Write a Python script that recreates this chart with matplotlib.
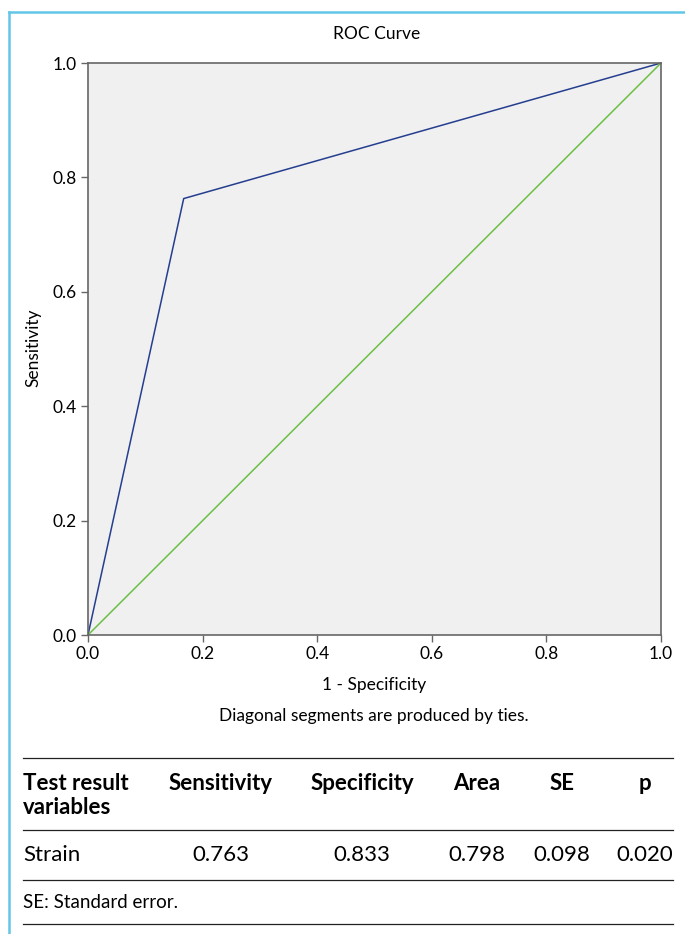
import matplotlib.pyplot as plt
from matplotlib.lines import Line2D

# ROC data
fpr = [0.0, 0.167, 1.0]
tpr = [0.0, 0.763, 1.0]
ref = [0.0, 1.0]
ticks = [0.0, 0.2, 0.4, 0.6, 0.8, 1.0]

# table data
headers = ["Sensitivity", "Specificity", "Area", "SE", "p"]
row_name = "Strain"
row_values = ["0.763", "0.833", "0.798", "0.098", "0.020"]
footnote = "SE: Standard error."

W, H = 685, 934
plt.rcParams['font.family'] = ['Lato', 'DejaVu Sans']

fig = plt.figure(figsize=(W / 100, H / 100), dpi=100)


def fx(px):
    return px / W


def fy(py):
    return 1 - py / H


ax = fig.add_axes([fx(88), fy(635), (661 - 88) / W, (635 - 63) / H])
ax.set_facecolor("#f0f0f0")
ax.plot(fpr, tpr, color="#253e8f", lw=1.1)
ax.plot(ref, ref, color="#6cbf45", lw=1.1)
ax.set_xlim(0, 1)
ax.set_ylim(0, 1)
ax.set_xticks(ticks)
ax.set_yticks(ticks)
ax.set_xticklabels(["%.1f" % t for t in ticks])
ax.set_yticklabels(["%.1f" % t for t in ticks])
for s in ax.spines.values():
    s.set_color("#666666")
    s.set_linewidth(1.2)
ax.tick_params(colors="#666666", labelcolor="black", labelsize=12.5, length=5, width=1,
               pad=3)

fig.text(fx(377), fy(34), "ROC Curve", ha="center", va="center", fontsize=12.5)
fig.text(fx(374), fy(685), "1 - Specificity", ha="center", va="center", fontsize=12.5)
fig.text(fx(374), fy(716), "Diagonal segments are produced by ties.",
         ha="center", va="center", fontsize=12.5)
fig.text(fx(33), fy(348), "Sensitivity", ha="center", va="center",
         rotation=90, fontsize=12.5)

# outer frame (cyan)
fig.add_artist(Line2D([fx(9), fx(685)], [fy(12), fy(12)], color="#62c6e6", lw=1.8))
fig.add_artist(Line2D([fx(9), fx(9)], [fy(12), fy(934)], color="#62c6e6", lw=1.8))

# table rules
for py in [758, 830, 880, 924]:
    fig.add_artist(Line2D([fx(23), fx(673)], [fy(py), fy(py)], color="#222222", lw=0.9))

bold = dict(fontsize=16, fontweight="bold", va="center")
fig.text(fx(23), fy(784), "Test result", ha="left", **bold)
fig.text(fx(23), fy(807), "variables", ha="left", **bold)
col_x = [221, 362, 477, 562, 645]
for x, h in zip(col_x, headers):
    fig.text(fx(x), fy(784), h, ha="center", **bold)
fig.text(fx(23), fy(855), row_name, ha="left", va="center", fontsize=16)
for x, v in zip(col_x, row_values):
    fig.text(fx(x), fy(855), v, ha="center", va="center", fontsize=16)
fig.text(fx(23), fy(902), footnote, ha="left", va="center", fontsize=13.5)

fig.savefig("out.png", dpi=100)
